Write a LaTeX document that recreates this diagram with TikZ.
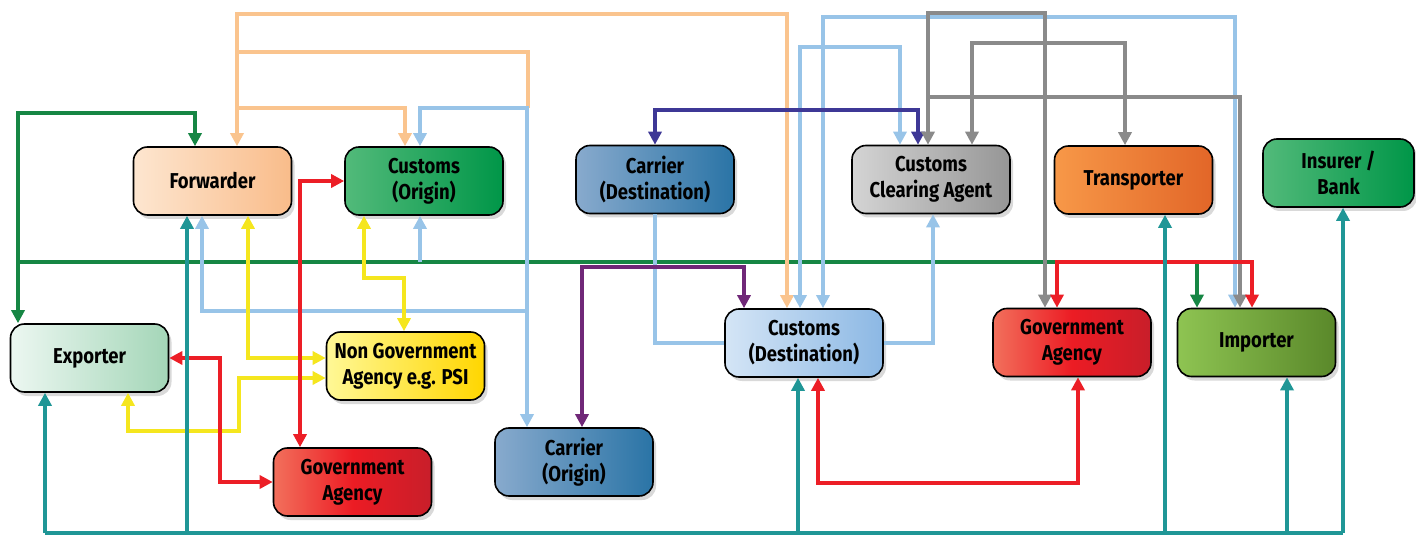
\documentclass[tikz,border=0pt]{standalone}
\usepackage{fontspec}
\newfontfamily\boxfont{Fira Sans}[FakeStretch=0.86]
\usetikzlibrary{arrows.meta,shadows}

\definecolor{tealln}{RGB}{31,150,150}
\definecolor{greenln}{RGB}{22,134,68}
\definecolor{peachln}{RGB}{250,196,142}
\definecolor{blueln}{RGB}{152,196,232}
\definecolor{indigoln}{RGB}{62,56,150}
\definecolor{purpleln}{RGB}{112,40,120}
\definecolor{grayln}{RGB}{138,138,138}
\definecolor{yellowln}{RGB}{245,230,30}
\definecolor{redln}{RGB}{236,30,38}

\definecolor{fwdl}{RGB}{253,230,208}
\definecolor{fwdr}{RGB}{249,188,138}
\definecolor{grnl}{RGB}{82,186,122}
\definecolor{grnr}{RGB}{0,150,72}
\definecolor{carl}{RGB}{136,170,205}
\definecolor{carr}{RGB}{42,116,166}
\definecolor{gryl}{RGB}{212,212,212}
\definecolor{gryr}{RGB}{150,150,150}
\definecolor{orgl}{RGB}{247,152,72}
\definecolor{orgr}{RGB}{226,102,40}
\definecolor{expl}{RGB}{236,247,241}
\definecolor{expr}{RGB}{164,214,184}
\definecolor{ylwl}{RGB}{255,248,150}
\definecolor{ylwr}{RGB}{255,214,0}
\definecolor{cdsl}{RGB}{212,229,246}
\definecolor{cdsr}{RGB}{140,184,228}
\definecolor{redl}{RGB}{242,112,92}
\definecolor{redm}{RGB}{236,28,36}
\definecolor{redr}{RGB}{200,30,42}
\definecolor{impl}{RGB}{142,196,82}
\definecolor{impr}{RGB}{90,136,42}

\tikzset{
	box/.style={draw=black, line width=1.6pt, rounded corners=14pt,
		minimum width=158pt, minimum height=68pt, align=center, text=black,
		font={\fontsize{21.5}{26}\selectfont\boxfont\bfseries},
		drop shadow={opacity=0.3, shadow xshift=3pt, shadow yshift=-4pt}},
	ln/.style={line width=4pt},
	tl/.style={ln, color=tealln},
	gn/.style={ln, color=greenln},
	pc/.style={ln, color=peachln},
	lb/.style={ln, color=blueln},
	ig/.style={ln, color=indigoln},
	pp/.style={ln, color=purpleln},
	gy/.style={line width=4.5pt, color=grayln},
	yl/.style={ln, color=yellowln},
	rd/.style={ln, color=redln},
}

\begin{document}
\begin{tikzpicture}[x=1pt, y=-1pt, >={Triangle[length=13pt,width=13pt]}]
			%%%%% START %%%%%
			\useasboundingbox (0,0) rectangle (1416,537);
			
			% top row
			\node[box, left color=fwdl, right color=fwdr] (fwd) at (212.5,181) {Forwarder};
			\node[box, left color=grnl, right color=grnr] (corg) at (424,181) {Customs\\(Origin)};
			\node[box, left color=carl, right color=carr] (cdes) at (655,179.5) {Carrier\\(Destination)};
			\node[box, left color=gryl, right color=gryr] (cca) at (931,179.5) {Customs\\Clearing Agent};
			\node[box, left color=orgl, right color=orgr] (trn) at (1133.5,180) {Transporter};
			\node[box, left color=grnl, right color=grnr, minimum width=151pt] (ins) at (1338.5,173) {Insurer /\\Bank};
			
			% middle and bottom rows
			\node[box, left color=expl, right color=expr] (exp) at (89.5,358) {Exporter};
			\node[box, left color=ylwl, right color=ylwr] (ngo) at (405.5,366) {Non Government\\Agency e.g. PSI};
			\node[box, left color=cdsl, right color=cdsr] (cdst) at (804,343) {Customs\\(Destination)};
			\node[box, left color=redl, right color=redr, middle color=redm] (gvr) at (1072,342.5) {Government\\Agency};
			\node[box, left color=impl, right color=impr] (imp) at (1256.5,342.5) {Importer};
			\node[box, left color=redl, right color=redr, middle color=redm] (gvl) at (352.5,482) {Government\\Agency};
			\node[box, left color=carl, right color=carr] (corr) at (574,462) {Carrier\\(Origin)};
			
			% green
			\draw[gn,->] (18,262) -- (18,113) -| (fwd.north -| 195,0);
			\draw[gn,->] (18,262) -- (exp.north -| 18,0);
			\draw[gn,->] (18,262) -| (imp.north -| 1197,0);
			
			% peach
			\draw[pc,<->] (fwd.north -| 237,0) -- (237,14) -| (cdst.north -| 787,0);
			\draw[pc] (237,52) -| (528,108);
			\draw[pc,->] (237,108) -| (corg.north -| 405,0);
			
			% light blue
			\draw[lb,<->] (corg.north -| 420,0) |- (527,108) -- (corr.north -| 527,0);
			\draw[lb,->] (527,311) -| (fwd.south -| 202,0);
			\draw[lb,->] (420,262) -- (corg.south -| 420,0);
			\draw[lb,<->] (cdst.north -| 800,0) |- (900,47) -- (cca.north -| 900,0);
			\draw[lb,<->] (cdst.north -| 823,0) |- (1235,17) -- (imp.north -| 1235,0);
			\draw[lb] (cdes.south) |- (cdst.west);
			\draw[lb,->] (cdst.east) -| (cca.south -| 933,0);
			
			\draw[ig,<->] (cdes.north) |- (918,110) -- (cca.north -| 918,0);
			\draw[pp,<->] (corr.north -| 582,0) |- (744,267) -- (cdst.north -| 744,0);
			
			% gray
			\draw[gy,<->] (cca.north -| 928,0) |- (1045,13) -- (gvr.north -| 1045,0);
			\draw[gy,->] (928,97) -| (imp.north -| 1240,0);
			\draw[gy,<->] (cca.north -| 972,0) |- (1125,43) -- (trn.north -| 1125,0);
			
			% yellow
			\draw[yl,<->] (fwd.south -| 248,0) |- (ngo.west |- 0,358);
			\draw[yl,<->] (exp.south -| 128,0) |- (239,431) |- (ngo.west |- 0,378);
			\draw[yl,<->] (corg.south -| 364,0) |- (404,278) -- (ngo.north -| 404,0);
			
			% red
			\draw[rd,<->] (gvl.north -| 300,0) |- (corg.west);
			\draw[rd,<->] (exp.east) -| (220,0 |- gvl.west) -- (gvl.west);
			\draw[rd,<->] (cdst.south -| 818,0) |- (1078,483) -- (gvr.south -| 1078,0);
			\draw[rd,<->] (gvr.north -| 1057,0) |- (1252,262) -- (imp.north -| 1252,0);
			
			% teal
			\draw[tl] (45,533) -- (1343,533);
			\foreach \n/\x in {exp/45,fwd/187,cdst/798,trn/1165,imp/1287,ins/1343}
				\draw[tl,->] (\x,533) -- (\n.south -| \x,0);
			
			%%%%% END %%%%%
\end{tikzpicture}
\end{document}
